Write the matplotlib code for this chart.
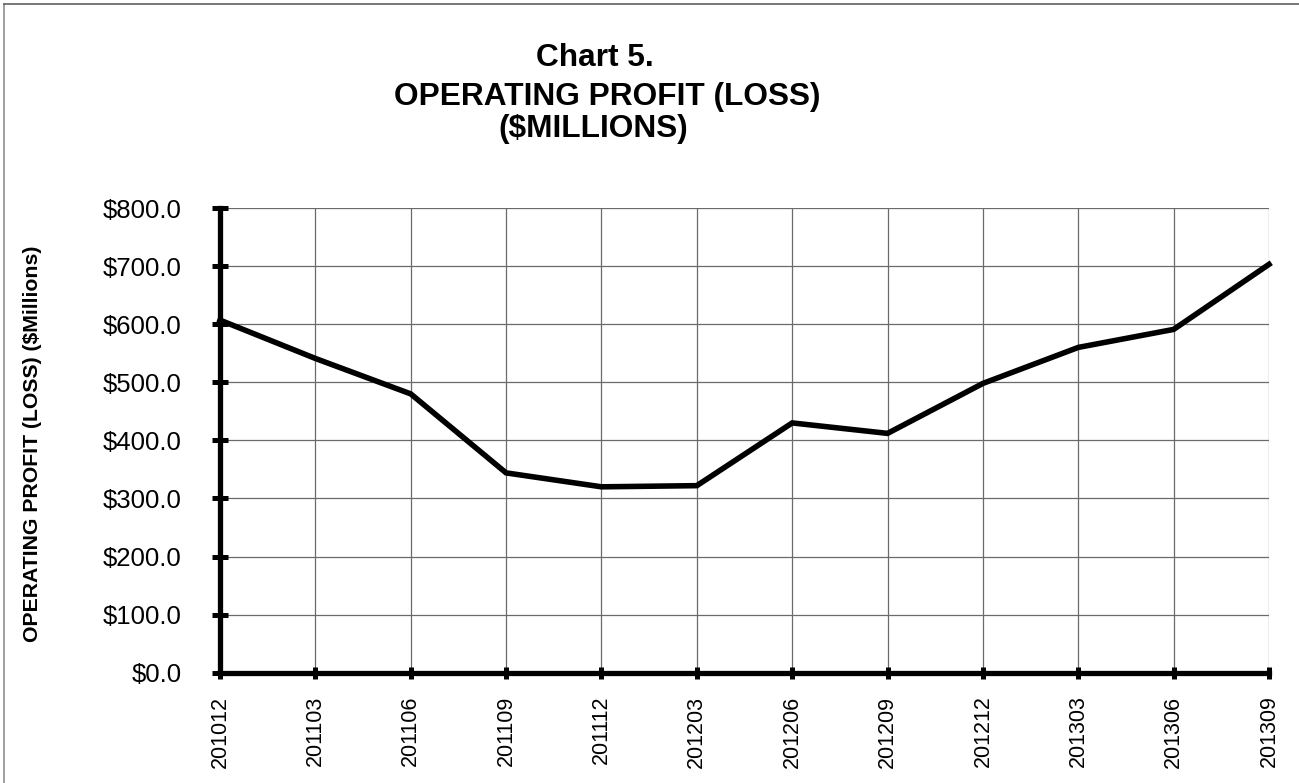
import matplotlib
matplotlib.use("Agg")
import matplotlib.pyplot as plt
from matplotlib.lines import Line2D

periods = ["201012", "201103", "201106", "201109", "201112", "201203",
           "201206", "201209", "201212", "201303", "201306", "201309"]
profit = [607, 541, 480, 344, 320, 322, 430, 412, 498, 560, 591, 703]
yticks = [0, 100, 200, 300, 400, 500, 600, 700, 800]

plt.rcParams['font.family'] = ['Liberation Sans', 'DejaVu Sans']

W, H = 1299, 783
fig = plt.figure(figsize=(W / 100, H / 100), dpi=100)
ax = fig.add_axes([220 / W, 1 - 672.7 / H, (1269 - 220) / W, (672.7 - 208) / H])

x = list(range(len(periods)))
ax.plot(x, profit, color='black', linewidth=4, solid_joinstyle='miter', zorder=3, clip_on=False)

ax.set_xlim(0, len(periods) - 1)
ax.set_ylim(0, 800)
ax.set_xticks(x)
ax.set_xticklabels(periods, rotation=90, fontsize=15.5)
ax.set_yticks(yticks)
ax.set_yticklabels([f"${v:.1f}" for v in yticks], fontsize=18.5)

ax.grid(True, color='#6a6a6a', linewidth=0.9)
ax.set_axisbelow(True)
for s in ['top', 'right']:
    ax.spines[s].set_visible(False)
for s in ['left', 'bottom']:
    ax.spines[s].set_linewidth(3.8)
    ax.spines[s].set_color('black')
    ax.spines[s].set_zorder(4)
ax.tick_params(axis='y', direction='inout', length=11, width=3.6, pad=22)
ax.tick_params(axis='x', direction='inout', length=9, width=3.6, pad=12)

# Titles
fig.text(594.5 / W, 1 - 66 / H, "Chart 5.", ha='center', va='baseline', fontsize=22.8, fontweight='bold')
fig.text(607.5 / W, 1 - 105 / H, "OPERATING PROFIT (LOSS)", ha='center', va='baseline', fontsize=22.8, fontweight='bold')
fig.text(593 / W, 1 - 137.5 / H, "($MILLIONS)", ha='center', va='baseline', fontsize=22.8, fontweight='bold')

fig.text(33 / W, 1 - 444 / H, "OPERATING PROFIT (LOSS) ($Millions)", rotation=90,
         ha='center', va='center', fontsize=15.3, fontweight='bold')

# Outer border (top and left visible)
fig.add_artist(Line2D([3.5 / W, 3.5 / W], [0, 1 - 4 / H], transform=fig.transFigure, color='#909090', linewidth=1.2))
fig.add_artist(Line2D([3.5 / W, 1], [1 - 4 / H, 1 - 4 / H], transform=fig.transFigure, color='#606060', linewidth=1.2))

fig.savefig("out.png", dpi=100)
